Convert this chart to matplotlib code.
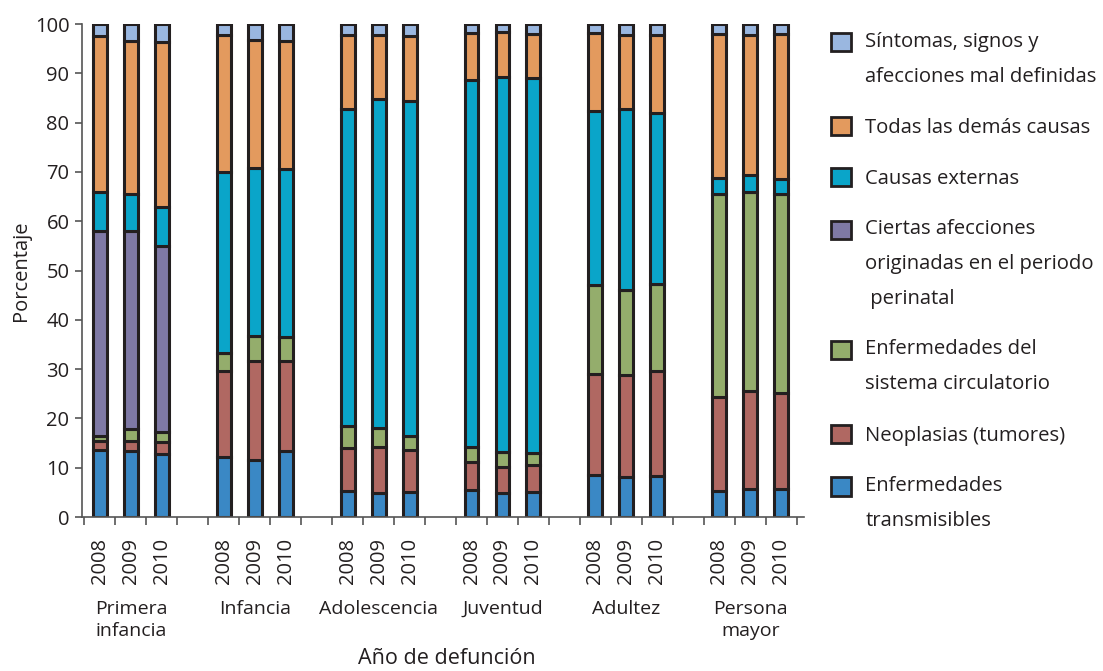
import matplotlib.pyplot as plt
import matplotlib.transforms as mtransforms
from matplotlib.legend_handler import HandlerPatch, update_from_first_child
import numpy as np

plt.rcParams['font.family'] = ['Open Sans', 'DejaVu Sans']

groups = ['Primera\ninfancia', 'Infancia', 'Adolescencia', 'Juventud', 'Adultez', 'Persona\nmayor']
years = ['2008', '2009', '2010']

# segment sizes (%) per bar, bars ordered group by group, 2008..2010
transmisibles = [13.5, 13.3, 12.8, 12.2, 11.6, 13.3, 5.2, 4.9, 5.1, 5.4, 4.9, 5.1, 8.5, 8.1, 8.4, 5.3, 5.7, 5.7]
neoplasias = [2.0, 2.2, 2.4, 17.5, 20.1, 18.4, 8.8, 9.3, 8.4, 5.8, 5.3, 5.4, 20.5, 20.8, 21.3, 19.1, 19.8, 19.5]
circulatorio = [1.0, 2.3, 2.0, 3.6, 5.0, 4.8, 4.5, 3.9, 2.9, 3.0, 3.0, 2.5, 18.0, 17.1, 17.5, 41.1, 40.5, 40.3]
perinatal = [41.5, 40.2, 37.8, 0, 0, 0, 0, 0, 0, 0, 0, 0, 0, 0, 0, 0, 0, 0]
externas = [7.9, 7.6, 7.8, 36.7, 34.0, 34.0, 64.3, 66.6, 67.9, 74.5, 76.1, 76.0, 35.3, 36.7, 34.8, 3.3, 3.3, 3.0]
demas = [31.6, 30.9, 33.5, 27.7, 26.0, 26.1, 15.0, 13.1, 13.2, 9.5, 9.0, 8.9, 15.8, 15.0, 15.7, 29.2, 28.4, 29.4]
sintomas = [2.5, 3.5, 3.7, 2.3, 3.3, 3.4, 2.2, 2.2, 2.5, 1.8, 1.7, 2.1, 1.9, 2.3, 2.3, 2.0, 2.3, 2.1]

series = [
    ('Enfermedades\ntransmisibles', transmisibles, '#3a88c5'),
    ('Neoplasias (tumores)', neoplasias, '#b06862'),
    ('Enfermedades del\nsistema circulatorio', circulatorio, '#94ad6c'),
    ('Ciertas afecciones\noriginadas en el periodo\n perinatal', perinatal, '#7f79a5'),
    ('Causas externas', externas, '#0aa5c9'),
    ('Todas las demás causas', demas, '#e39a5e'),
    ('Síntomas, signos y\nafecciones mal definidas', sintomas, '#9ab7e0'),
]

LEG_FS = 14.6
LEG_LS = 2.0


class FirstLinePatch(HandlerPatch):
    # put the legend square next to the first line of a multi-line label
    def __init__(self, nlines):
        super().__init__(update_func=update_from_first_child)
        self.nlines = nlines

    def create_artists(self, legend, orig_handle, xdescent, ydescent, width, height, fontsize, trans):
        shift = 0.5 * (self.nlines - 1) * 0.86 * LEG_LS * fontsize
        return super().create_artists(legend, orig_handle, xdescent, ydescent - shift,
                                      width, height, fontsize, trans)


# bar positions: three bars per group, one empty slot between groups
x = np.array([g * 4 + k for g in range(len(groups)) for k in range(len(years))], dtype=float)

fig = plt.figure(figsize=(11.03, 6.71), dpi=100)
ax = fig.add_axes([0.0743, 0.2295, 0.655, 0.7347])

bottom = np.zeros(len(x))
handles = []
for label, vals, color in series:
    vals = np.array(vals)
    b = ax.bar(x, vals, 0.45, bottom=bottom, color=color, edgecolor='#231f20',
               linewidth=2.2, label=label)
    handles.append(b)
    bottom += vals

ax.set_ylim(0, 100)
ax.set_xlim(-0.58, 22.75)
ax.set_yticks(np.arange(0, 101, 10))
ax.tick_params(axis='y', labelsize=14.5, length=5, width=1.2, color='#555555', pad=4,
               labelcolor='#231f20')
ax.set_xticks(x)
ax.set_xticklabels(years * len(groups), rotation=90, fontsize=14.5, color='#231f20')
ax.set_xticks(np.arange(-0.5, 23, 1), minor=True)
ax.tick_params(axis='x', which='major', length=0, pad=15)
ax.tick_params(axis='x', which='minor', length=6, width=1.2, color='#555555')

for s in ['top', 'right']:
    ax.spines[s].set_visible(False)
for s in ['left', 'bottom']:
    ax.spines[s].set_color('#555555')
    ax.spines[s].set_linewidth(1.2)

trans = mtransforms.blended_transform_factory(ax.transData, ax.transAxes)
for g, name in enumerate(groups):
    ax.text(g * 4 + 1, -0.168, name, transform=trans, ha='center', va='top',
            fontsize=14, linespacing=1.33, color='#231f20')

ax.set_ylabel('Porcentaje', fontsize=14.5, labelpad=3, color='#231f20')
fig.text(0.405, 0.003, 'Año de defunción', ha='center', va='bottom', fontsize=15.5,
         color='#231f20')

labels = [s[0] for s in series][::-1]
hs = handles[::-1]
hmap = {h: FirstLinePatch(l.count('\n') + 1) for h, l in zip(hs, labels)}
leg = fig.legend(hs, labels, loc='upper left', handler_map=hmap,
                 bbox_to_anchor=(0.7534, 0.953), frameon=False, fontsize=LEG_FS,
                 handlelength=1.0, handleheight=1.0, handletextpad=0.7,
                 labelspacing=1.49, borderpad=0, borderaxespad=0)
for t in leg.get_texts():
    t.set_linespacing(LEG_LS)
    t.set_color('#231f20')
for p in leg.get_patches():
    p.set_linewidth(2)

fig.savefig('out.png', dpi=100)
